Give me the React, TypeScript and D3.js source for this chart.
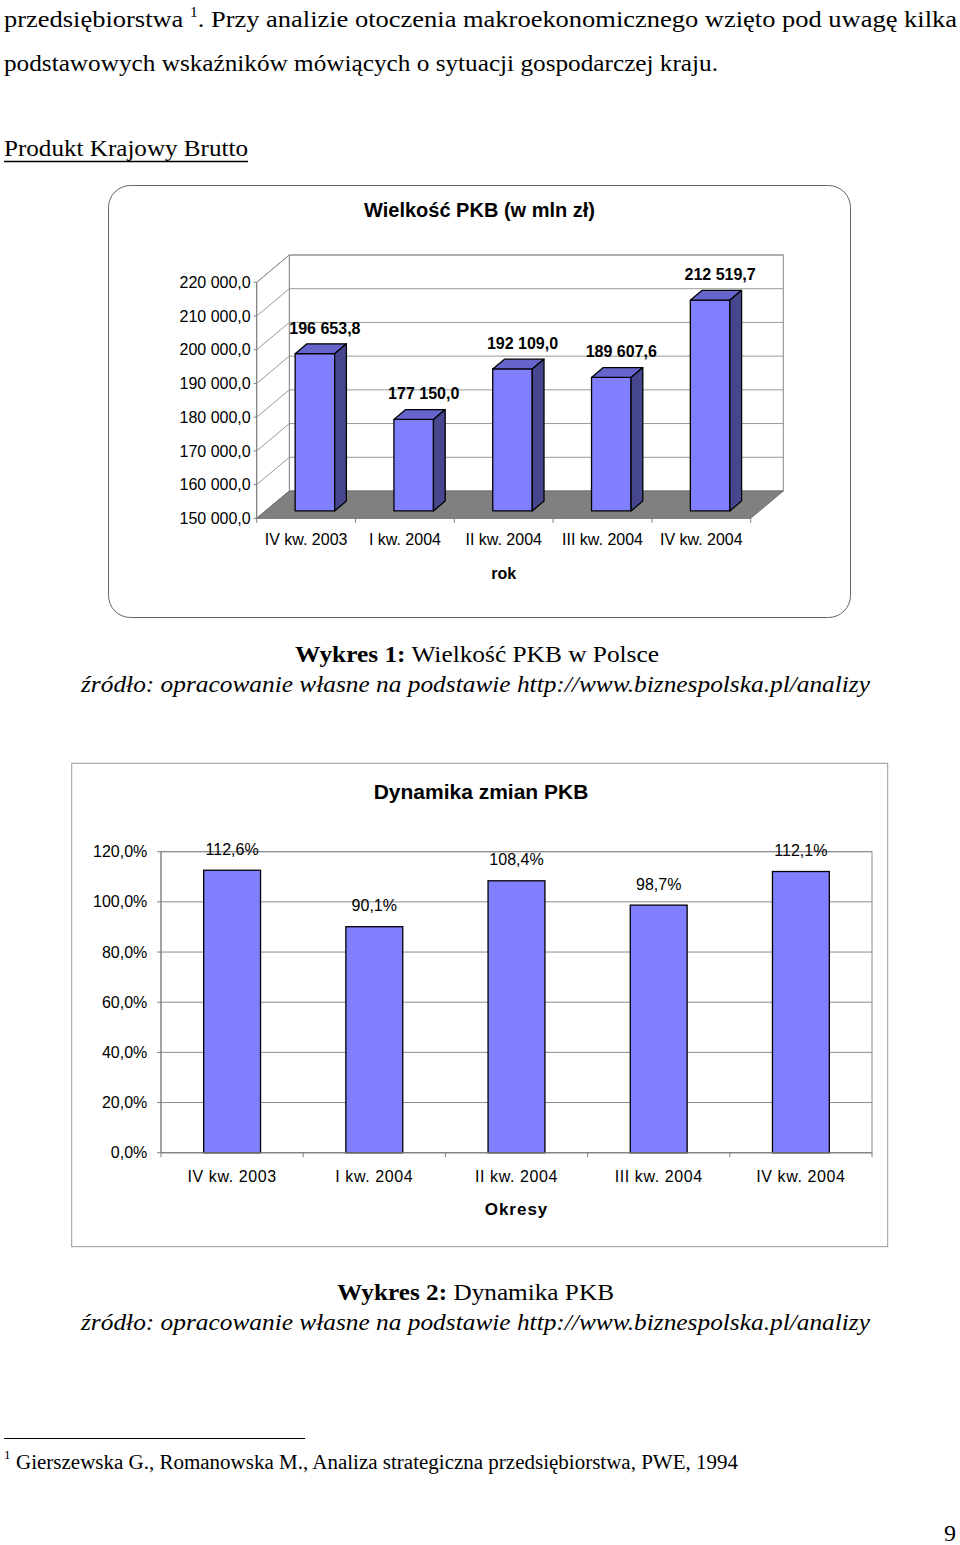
import * as d3 from "d3";

// Dane z wykresów
const quarters = ["IV kw. 2003", "I kw. 2004", "II kw. 2004", "III kw. 2004", "IV kw. 2004"];
const gdpValues = [196653.8, 177150.0, 192109.0, 189607.6, 212519.7];
const gdpTicks = [150000, 160000, 170000, 180000, 190000, 200000, 210000, 220000];
const dynamicsValues = [112.6, 90.1, 108.4, 98.7, 112.1];
const dynamicsTicks = [0, 20, 40, 60, 80, 100, 120];

const plLocale = d3.formatLocale({
  decimal: ",",
  thousands: " ",
  grouping: [3],
  currency: ["", " zł"],
});
const fmtGdp = plLocale.format(",.1f");
const fmtPct = (v: number) => plLocale.format(".1f")(v) + "%";

const SERIF = "'Liberation Serif', 'Times New Roman', serif";
const SANS = "'Liberation Sans', Arial, sans-serif";

const BAR = "#8080FF";
const BAR_TOP = "#6565CC";
const BAR_SIDE = "#47478F";

function GdpChart() {
  // 3D geometry of the Excel-like chart
  const DX = 32.6;
  const DY = -27.3;
  const z0 = 0.27;
  const z1 = 0.63;

  const x = d3.scaleBand<string>().domain(quarters).range([256.7, 750.7]);
  const y = d3.scaleLinear().domain([150000, 220000]).range([518.3, 282.3]);
  const [xl, xr] = x.range();
  const bw = x.bandwidth();
  const barW = bw * 0.4;
  const ddx = (z1 - z0) * DX;
  const ddy = (z1 - z0) * DY;
  const base = y.domain()[0];
  const top = y.domain()[1];

  const pts = (p: number[][]) => p.map((d) => d.join(",")).join(" ");

  return (
    <g fontFamily={SANS}>
      <rect x={108.5} y={185.5} width={742} height={432} rx={22} fill="#fff" stroke="#666" strokeWidth={1} />
      <text x={479.5} y={217} textAnchor="middle" fontSize={20} fontWeight="bold">
        Wielkość PKB (w mln zł)
      </text>

      {/* back wall */}
      <rect x={xl + DX} y={y(top) + DY} width={xr - xl} height={y(base) - y(top)} fill="#fff" stroke="#888" />
      {gdpTicks.slice(1).map((t) => (
        <line key={"bg" + t} x1={xl + DX} x2={xr + DX} y1={y(t) + DY} y2={y(t) + DY} stroke="#999" />
      ))}
      {/* left wall */}
      <polygon
        points={pts([
          [xl, y(base)],
          [xl, y(top)],
          [xl + DX, y(top) + DY],
          [xl + DX, y(base) + DY],
        ])}
        fill="#fff"
        stroke="#888"
      />
      {gdpTicks.map((t) => (
        <line key={"lg" + t} x1={xl} x2={xl + DX} y1={y(t)} y2={y(t) + DY} stroke="#999" />
      ))}
      {/* floor */}
      <polygon
        points={pts([
          [xl, y(base)],
          [xr, y(base)],
          [xr + DX, y(base) + DY],
          [xl + DX, y(base) + DY],
        ])}
        fill="#808080"
        stroke="#707070"
      />

      {/* bars */}
      {quarters.map((q, i) => {
        const v = gdpValues[i];
        const x0 = (x(q) as number) + (bw - barW) / 2 + z0 * DX;
        const yt = y(v) + z0 * DY;
        const yb = y(base) + z0 * DY;
        return (
          <g key={q} stroke="#000" strokeWidth={1.3} strokeLinejoin="round">
            <rect x={x0} y={yt} width={barW} height={yb - yt} fill={BAR} />
            <polygon
              points={pts([
                [x0, yt],
                [x0 + barW, yt],
                [x0 + barW + ddx, yt + ddy],
                [x0 + ddx, yt + ddy],
              ])}
              fill={BAR_TOP}
            />
            <polygon
              points={pts([
                [x0 + barW, yt],
                [x0 + barW + ddx, yt + ddy],
                [x0 + barW + ddx, yb + ddy],
                [x0 + barW, yb],
              ])}
              fill={BAR_SIDE}
            />
            <text
              x={x0 + barW / 2 + 10}
              y={yt - 20}
              textAnchor="middle"
              fontSize={16}
              fontWeight="bold"
              stroke="none"
              fill="#000"
            >
              {fmtGdp(v)}
            </text>
          </g>
        );
      })}

      {/* y axis */}
      <line x1={xl} x2={xl} y1={y(top)} y2={y(base)} stroke="#808080" />
      {gdpTicks.map((t) => (
        <g key={"yt" + t}>
          <line x1={xl - 3} x2={xl} y1={y(t)} y2={y(t)} stroke="#808080" />
          <text x={250.7} y={y(t) + 5.7} textAnchor="end" fontSize={16} fill="#000">
            {fmtGdp(t)}
          </text>
        </g>
      ))}
      {/* x axis */}
      <line x1={xl} x2={xr} y1={y(base)} y2={y(base)} stroke="#808080" />
      {quarters.concat([""]).map((q, i) => (
        <line key={"xt" + i} x1={xl + i * bw} x2={xl + i * bw} y1={y(base)} y2={y(base) + 4.5} stroke="#808080" />
      ))}
      {quarters.map((q) => (
        <text key={"xl" + q} x={(x(q) as number) + bw / 2} y={545} textAnchor="middle" fontSize={16}>
          {q}
        </text>
      ))}
      <text x={(xl + xr) / 2} y={579} textAnchor="middle" fontSize={16} fontWeight="bold">
        rok
      </text>
    </g>
  );
}

function DynamicsChart() {
  const x = d3.scaleBand<string>().domain(quarters).range([161, 872]);
  const y = d3.scaleLinear().domain([0, 120]).range([1152.7, 851.7]);
  const [xl, xr] = x.range();
  const bw = x.bandwidth();
  const barW = bw * 0.4;

  return (
    <g fontFamily={SANS}>
      <rect x={71.7} y={763.3} width={816} height={483.4} fill="#fff" stroke="#999" />
      <text x={481} y={799} textAnchor="middle" fontSize={21} fontWeight="bold">
        Dynamika zmian PKB
      </text>

      {dynamicsTicks.map((t) => (
        <line key={"g" + t} x1={xl} x2={xr} y1={y(t)} y2={y(t)} stroke="#8c8c8c" />
      ))}
      <rect x={xl} y={y(120)} width={xr - xl} height={y(0) - y(120)} fill="none" stroke="#8c8c8c" />

      {quarters.map((q, i) => {
        const v = dynamicsValues[i];
        const cx = (x(q) as number) + bw / 2;
        return (
          <g key={q}>
            <rect x={cx - barW / 2} y={y(v)} width={barW} height={y(0) - y(v)} fill={BAR} stroke="#000" strokeWidth={1.3} />
            <text x={cx} y={y(v) - 15.5} textAnchor="middle" fontSize={16}>
              {fmtPct(v)}
            </text>
          </g>
        );
      })}

      <line x1={xl} x2={xl} y1={y(120)} y2={y(0)} stroke="#808080" />
      <line x1={xl} x2={xr} y1={y(0)} y2={y(0)} stroke="#808080" />
      {dynamicsTicks.map((t) => (
        <g key={"yt" + t}>
          <line x1={xl - 4} x2={xl} y1={y(t)} y2={y(t)} stroke="#808080" />
          <text x={147.3} y={y(t) + 5.6} textAnchor="end" fontSize={16}>
            {fmtPct(t)}
          </text>
        </g>
      ))}
      {quarters.concat([""]).map((q, i) => (
        <line key={"xt" + i} x1={xl + i * bw} x2={xl + i * bw} y1={y(0)} y2={y(0) + 4.5} stroke="#808080" />
      ))}
      {quarters.map((q) => (
        <text
          key={"xl" + q}
          x={(x(q) as number) + bw / 2}
          y={1182.3}
          textAnchor="middle"
          fontSize={16}
          letterSpacing={0.6}
        >
          {q}
        </text>
      ))}
      <text x={(xl + xr) / 2} y={1215} textAnchor="middle" fontSize={17} fontWeight="bold" letterSpacing={1}>
        Okresy
      </text>
    </g>
  );
}

export default function App() {
  const fs = 24;
  return (
    <svg
      width={960}
      height={1545}
      viewBox="0 0 960 1545"
      style={{ position: "absolute", left: 0, top: 0, display: "block", background: "#fff" }}
    >
      <rect width={960} height={1545} fill="#fff" />
      <g fontFamily={SERIF} fill="#000">
        <text x={4} y={26.7} fontSize={fs} textLength={953} lengthAdjust="spacingAndGlyphs">
          przedsiębiorstwa{" "}
          <tspan fontSize={14} dy={-10}>
            1
          </tspan>
          <tspan dy={10}>. Przy analizie otoczenia makroekonomicznego wzięto pod uwagę kilka</tspan>
        </text>
        <text x={4} y={70.7} fontSize={fs} textLength={714} lengthAdjust="spacingAndGlyphs">
          podstawowych wskaźników mówiących o sytuacji gospodarczej kraju.
        </text>
        <text x={4} y={156} fontSize={fs} textLength={244} lengthAdjust="spacingAndGlyphs">
          Produkt Krajowy Brutto
        </text>
        <line x1={4} x2={248} y1={161.5} y2={161.5} stroke="#000" strokeWidth={1.4} />

        <text x={295} y={662} fontSize={fs} textLength={364} lengthAdjust="spacingAndGlyphs">
          <tspan fontWeight="bold">Wykres 1:</tspan> Wielkość PKB w Polsce
        </text>
        <text x={81} y={692} fontSize={fs} fontStyle="italic" textLength={789} lengthAdjust="spacingAndGlyphs">
          źródło: opracowanie własne na podstawie http://www.biznespolska.pl/analizy
        </text>

        <text x={337} y={1300} fontSize={fs} textLength={277} lengthAdjust="spacingAndGlyphs">
          <tspan fontWeight="bold">Wykres 2:</tspan> Dynamika PKB
        </text>
        <text x={81} y={1330} fontSize={fs} fontStyle="italic" textLength={789} lengthAdjust="spacingAndGlyphs">
          źródło: opracowanie własne na podstawie http://www.biznespolska.pl/analizy
        </text>

        <line x1={4} x2={305} y1={1438.5} y2={1438.5} stroke="#000" strokeWidth={1.2} />
        <text x={4} y={1459} fontSize={13}>
          1
        </text>
        <text x={16} y={1469} fontSize={20} textLength={722} lengthAdjust="spacingAndGlyphs">
          Gierszewska G., Romanowska M., Analiza strategiczna przedsiębiorstwa, PWE, 1994
        </text>
        <text x={944} y={1541} fontSize={24} textLength={12} lengthAdjust="spacingAndGlyphs">
          9
        </text>
      </g>

      <GdpChart />
      <DynamicsChart />
    </svg>
  );
}
